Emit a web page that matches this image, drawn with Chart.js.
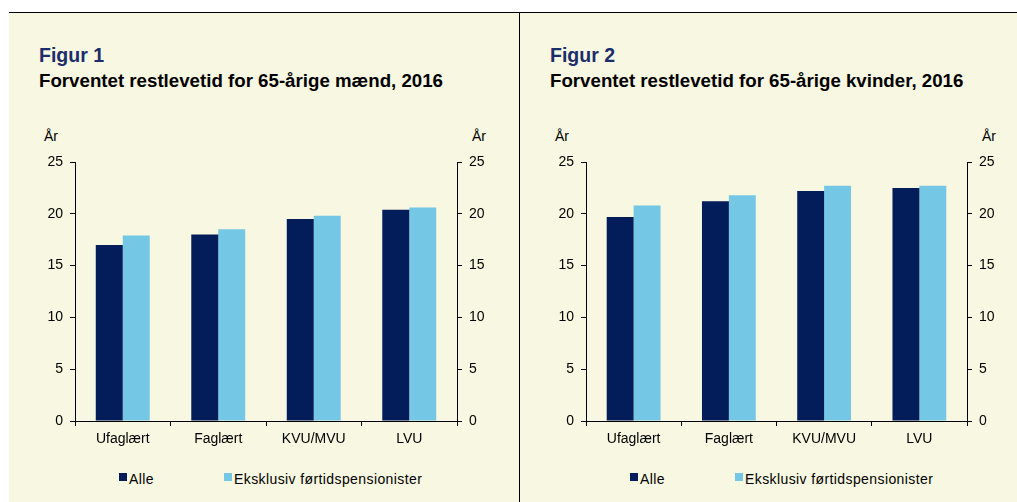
<!DOCTYPE html>
<html lang="da">
<head>
<meta charset="utf-8">
<title>Forventet restlevetid</title>
<script src="https://cdn.jsdelivr.net/npm/chart.js@4"></script>
<style>
    html, body { margin: 0; padding: 0; background: #ffffff; }
    body { width: 1017px; height: 502px; position: relative; overflow: hidden;
           font-family: 'Liberation Sans', Arial, sans-serif; color: #000; }
    .fond { position: absolute; left: 9px; top: 12px; width: 1008px; height: 490px;
            background: #f8f7e1; border-top: 1.5px solid #000; }
    .skille { position: absolute; left: 518.5px; top: 12px; width: 1.5px; height: 490px; background: #000; }
    .panel { position: absolute; top: 0; height: 502px; }
    .figur { position: absolute; left: 30px; top: 45.5px; font-size: 19.5px; line-height: 19.5px;
             font-weight: bold; color: #1b2e6b; white-space: nowrap; }
    .titel { position: absolute; left: 30px; top: 71.5px; font-size: 18.7px; line-height: 18.7px;
             font-weight: bold; white-space: nowrap; }
    .enhed { position: absolute; top: 129px; font-size: 14px; line-height: 14px; }
    canvas { position: absolute; left: 0; top: 140px; }
    .legende { position: absolute; top: 470px; font-size: 14px; line-height: 14px; white-space: nowrap; }
    .legende span.boks { position: absolute; top: 3px; width: 8px; height: 8px; }
    .legende span.tekst { position: absolute; top: 1.5px; letter-spacing: 0.4px; }
</style>
</head>
<body>
<div class="fond"></div>
<div class="skille"></div>

<div class="panel" id="panel1" style="left:9px; width:510px;">
    <div class="figur">Figur 1</div>
    <div class="titel">Forventet restlevetid for 65-årige mænd, 2016</div>
    <div class="enhed" style="left:35px;">År</div>
    <div class="enhed" style="left:463px;">År</div>
    <canvas id="chartMaend" width="510" height="320"></canvas>
    <div class="legende" id="legende1"></div>
</div>

<div class="panel" id="panel2" style="left:520px; width:497px;">
    <div class="figur">Figur 2</div>
    <div class="titel">Forventet restlevetid for 65-årige kvinder, 2016</div>
    <div class="enhed" style="left:35px;">År</div>
    <div class="enhed" style="left:462px;">År</div>
    <canvas id="chartKvinder" width="497" height="320"></canvas>
    <div class="legende" id="legende2"></div>
</div>

<script>
// ============================================
// Data
// ============================================

const KATEGORIER = ['Ufaglært', 'Faglært', 'KVU/MVU', 'LVU'];
const SERIER = ['Alle', 'Eksklusiv førtidspensionister'];

const MAEND_ALLE   = [17.0, 18.0, 19.5, 20.4];
const MAEND_EKSKL  = [17.9, 18.5, 19.8, 20.6];

const KVINDER_ALLE  = [19.7, 21.2, 22.2, 22.5];
const KVINDER_EKSKL = [20.8, 21.8, 22.7, 22.7];

const Y_MIN = 0;
const Y_MAX = 25;
const Y_TRIN = 5;

const FARVER = ['#031d5b', '#74c8e5'];

Chart.defaults.font.family = "'Liberation Sans', Arial, sans-serif";
Chart.defaults.font.size = 14;
Chart.defaults.color = '#000';

// ── Akse-opsætning ──
function yAkse(position, bredde) {
    return {
        position: position,
        min: Y_MIN,
        max: Y_MAX,
        ticks: { stepSize: Y_TRIN, padding: 7, color: '#000' },
        grid: { drawOnChartArea: false, drawTicks: true, tickLength: 5, color: '#000' },
        border: { display: true, color: '#000', width: 1 },
        afterFit: s => { s.width = bredde; }
    };
}

function tegnFigur(id, alle, ekskl, hoejreBredde) {
    new Chart(document.getElementById(id), {
        type: 'bar',
        data: {
            labels: KATEGORIER,
            datasets: [
                { label: SERIER[0], data: alle,  backgroundColor: FARVER[0], yAxisID: 'y' },
                { label: SERIER[1], data: ekskl, backgroundColor: FARVER[1], yAxisID: 'y' }
            ]
        },
        options: {
            responsive: false,
            animation: false,
            datasets: { bar: { categoryPercentage: 0.565, barPercentage: 1.0 } },
            layout: { padding: { top: 22, left: 0, right: 0, bottom: 0 } },
            plugins: { legend: { display: false }, tooltip: { enabled: false } },
            scales: {
                x: {
                    ticks: { padding: 5, color: '#000', maxRotation: 0 },
                    grid: { offset: true, drawOnChartArea: false, drawTicks: true, tickLength: 5, color: '#000' },
                    border: { display: true, color: '#000', width: 1 },
                    afterFit: s => { s.height = 39; }
                },
                y: yAkse('left', 66),
                y2: yAkse('right', hoejreBredde)
            }
        }
    });
}

// ── Legende ──
function tegnLegende(id) {
    const pos = [110, 215];
    document.getElementById(id).innerHTML = SERIER.map((navn, i) => `
        <span class="boks" style="left:${pos[i]}px; background:${FARVER[i]};"></span>
        <span class="tekst" style="left:${pos[i] + 10}px;">${navn}</span>
    `).join('');
}

tegnFigur('chartMaend', MAEND_ALLE, MAEND_EKSKL, 62);
tegnFigur('chartKvinder', KVINDER_ALLE, KVINDER_EKSKL, 50);
tegnLegende('legende1');
tegnLegende('legende2');
</script>
</body>
</html>
